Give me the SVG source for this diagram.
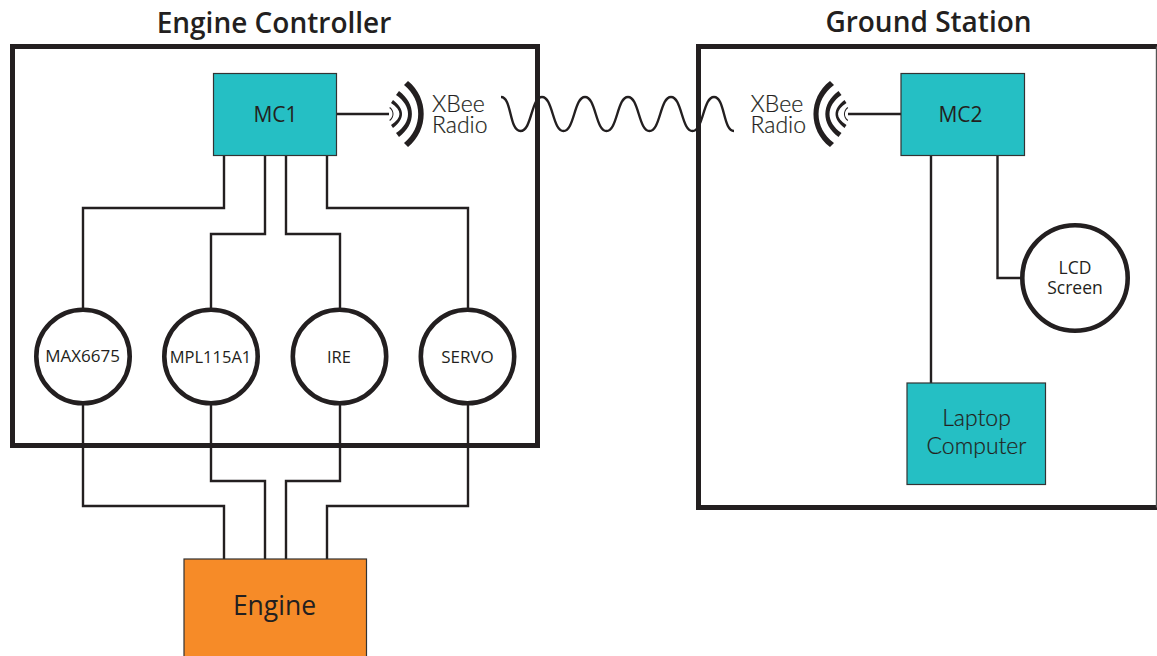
<svg xmlns="http://www.w3.org/2000/svg" width="1157" height="656" viewBox="0 0 1157 656">
<style>
.frame{fill:none;stroke:#231f20;stroke-width:5}
.thin{fill:none;stroke:#555;stroke-width:1.2}
.wire{fill:none;stroke:#231f20;stroke-width:2.4}
.teal{fill:#25bfc4;stroke:#333;stroke-width:1.2}
.orange{fill:#f68b28;stroke:#333;stroke-width:1.2}
.circ{fill:#fff;stroke:#231f20;stroke-width:4.6}
.arc{fill:#231f20}
text{font-family:"Open Sans","Liberation Sans",sans-serif;fill:#231f20;text-anchor:middle}
.title{font-size:28px;font-weight:600}
.lato{font-family:Lato,"Open Sans",sans-serif;font-weight:300;font-size:23px;stroke:#231f20;stroke-width:.2}
.radio{text-anchor:start}
</style>
<rect width="1157" height="656" fill="#fff"/>
<g id="engine-controller">
<rect class="frame" x="12.500" y="46.500" width="525" height="399"/>
<text class="title" x="274" y="33">Engine Controller</text>
</g>
<g id="ground-station">
<path class="frame" d="M1157 46.500H698.500V507.500H1157"/>
<path class="thin" d="M1156.400 46.500V507.500"/>
<text class="title" x="928.500" y="32">Ground Station</text>
</g>
<g id="connectors">
<path class="wire" d="M224 155V208H83V310M265 155V234H211V310M286 155V234H340V310M327 155V208H468V310"/>
<path class="wire" d="M83 402V506H224V559M211 402V481H265V559M340 402V481H286V559M468 402V506H327V559"/>
<path class="wire" d="M337 114H389M848 114H901M931 155V383M997.500 155V278H1024"/>
<path class="wire" d="M501 97C512 97 509 131 520.500 131S531 97 542 97S552.500 131 563.500 131S574 97 585 97S595.500 131 606.500 131S617 97 628 97S638.500 131 649.500 131S660 97 671 97S681.500 131 692.500 131S703 97 714 97S723 131 734 131"/>
</g>
<g id="mc1">
<rect class="teal" x="213.500" y="73.500" width="123" height="82"/>
<text x="275.500" y="121.500" font-size="21">MC1</text>
</g>
<g id="xbee1">
<path class="arc" d="M404 85L408 81C429 98 429 130 408 147L404 143C423 128 423 100 404 85Z"/>
<path class="arc" d="M396 95L399 91C416.300 104 416.300 124 399 137L396 133C412 122 412 106 396 95Z"/>
<path class="arc" d="M391 103L393 100C405 109 405 119 393 128L391 125C402.300 118 402.300 110 391 103Z"/>
<path class="arc" d="M389.300 108L390 107C394.700 111 394.700 117 390 121L389.300 120C393.600 117 393.600 111 389.300 108Z"/>
<text class="lato radio"><tspan x="432" y="112">XBee</tspan><tspan x="432" y="133">Radio</tspan></text>
</g>
<g id="mc2">
<rect class="teal" x="901" y="73.500" width="123.500" height="82"/>
<text x="960.500" y="121.500" font-size="21">MC2</text>
</g>
<g id="xbee2">
<path class="arc" d="M834 85L830 81C808 98 808 130 830 147L834 143C813.500 128 813.500 100 834 85Z"/>
<path class="arc" d="M841.500 95L838.500 91C821 104 821 124 838.500 137L841.500 133C825.500 122 825.500 106 841.500 95Z"/>
<path class="arc" d="M846.500 103L844.500 100C832.500 109 832.500 119 844.500 128L846.500 125C835.200 118 835.200 110 846.500 103Z"/>
<path class="arc" d="M848.200 108L847.500 107C842.800 111 842.800 117 847.500 121L848.200 120C843.900 117 843.900 111 848.200 108Z"/>
<text class="lato radio"><tspan x="750.500" y="112">XBee</tspan><tspan x="750.500" y="133">Radio</tspan></text>
</g>
<g id="max6675">
<circle class="circ" cx="83" cy="356.500" r="46.700"/>
<text x="82.500" y="362" font-size="17">MAX6675</text>
</g>
<g id="mpl115a1">
<circle class="circ" cx="211" cy="356.500" r="46.700"/>
<text x="210.500" y="362.500" font-size="16.500">MPL115A1</text>
</g>
<g id="ire">
<circle class="circ" cx="339.500" cy="356.500" r="46.700"/>
<text x="339" y="362.500" font-size="16.500">IRE</text>
</g>
<g id="servo">
<circle class="circ" cx="467.500" cy="356.500" r="46.700"/>
<text x="467.500" y="362.500" font-size="17">SERVO</text>
</g>
<g id="lcd">
<circle class="circ" cx="1075" cy="278" r="52.700"/>
<text font-size="17.500"><tspan x="1075" y="273.500">LCD</tspan><tspan x="1075" y="293.500">Screen</tspan></text>
</g>
<g id="laptop">
<rect class="teal" x="907" y="383" width="138.500" height="101.500"/>
<text class="lato"><tspan x="976.500" y="425.500">Laptop</tspan><tspan x="976.500" y="454">Computer</tspan></text>
</g>
<g id="engine">
<rect class="orange" x="184" y="559" width="182.500" height="100"/>
<text x="274.500" y="615" font-size="26.500">Engine</text>
</g>
</svg>
